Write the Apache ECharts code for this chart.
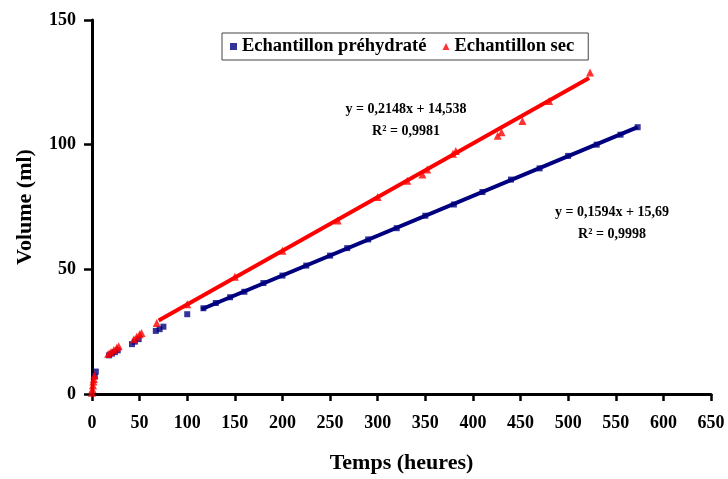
<!DOCTYPE html>
<html>
<head>
<meta charset="utf-8">
<script src="https://cdn.jsdelivr.net/npm/echarts@6/dist/echarts.min.js"></script>
<style>
  html, body { margin: 0; padding: 0; background: #fff; }
  #chart { width: 728px; height: 479px; }
</style>
</head>
<body>
<div id="chart"></div>
<script>
// x ticks (heures) and y ticks (ml)
const xTicks = [0, 50, 100, 150, 200, 250, 300, 350, 400, 450, 500, 550, 600, 650]
const yTicks = [0, 50, 100, 150]

// Echantillon sec (triangles rouges) : [temps, volume]
const secPoints = [
  [0, 0.5], [0.5, 2], [1, 3.5], [1.5, 5], [2, 6], [2.5, 7.5],
  [17, 16], [20, 16.8], [23, 17.6], [26, 18.5], [28, 19.2],
  [44, 22], [47, 23], [50, 24], [52, 24.5],
  [68, 28.5],
  [100, 36], [150, 47], [200, 57.5], [258, 69.6], [300, 79],
  [331, 85.5], [347, 88], [352, 90], [379, 96.4], [382, 97.5],
  [426, 103.6], [430, 105], [452, 109.5], [480, 117.5], [523, 128.9]
]

// Echantillon préhydraté (carrés bleus)
const prehydPoints = [
  [3, 7], [4, 9],
  [18, 15.5], [21, 16.2], [24, 16.8], [27, 17.5],
  [42, 20], [45, 21], [49, 22],
  [67, 25.3], [71, 26], [75, 27],
  [100, 32],
  [117, 34.4], [130, 36.5], [145, 38.8], [160, 41], [180, 44.5],
  [200, 47.5], [225, 51.5], [250, 55.5], [268, 58.5], [290, 62],
  [320, 66.5], [350, 71.5], [380, 76], [410, 81], [440, 86],
  [470, 90.5], [500, 95.5], [530, 100], [555, 104], [573, 107]
]

// droites de tendance (extrémités)
const secTrend = [[70, 29.5], [522, 126.7]]
const prehydTrend = [[115, 34], [573, 107]]

const seriesNames = ['Echantillon préhydraté', 'Echantillon sec']
const equations = [
  'y = 0,2148x + 14,538\nR² = 0,9981',
  'y = 0,1594x + 15,69\nR² = 0,9998'
]

const FONT = '"Liberation Serif", "Times New Roman", serif'
const BLUE = '#00007f'
const RED = '#ff0000'

const chart = echarts.init(document.getElementById('chart'))

// texte centré sur (x, y)
const eqText = (txt, x, y) => ({
  type: 'text',
  x: x,
  y: y,
  style: {
    text: txt,
    fill: '#000',
    font: 'bold 14px ' + FONT,
    textAlign: 'center',
    lineHeight: 22
  }
})

const option = {
  backgroundColor: '#fff',
  animation: false,
  grid: { left: 92, right: 17, top: 20, bottom: 79 },
  legend: {
    left: 222,
    top: 33,
    padding: [4, 14, 4, 8],
    itemGap: 16,
    itemWidth: 7,
    itemHeight: 7,
    borderColor: '#444',
    borderWidth: 1,
    textStyle: { fontFamily: FONT, fontWeight: 'bold', fontSize: 18.5, color: '#000' },
    data: [
      { name: seriesNames[0], icon: 'rect' },
      { name: seriesNames[1], icon: 'triangle' }
    ]
  },
  xAxis: {
    type: 'value',
    min: xTicks[0],
    max: xTicks[xTicks.length - 1],
    interval: 50,
    name: 'Temps (heures)',
    nameLocation: 'middle',
    nameGap: 58,
    nameTextStyle: { fontFamily: FONT, fontWeight: 'bold', fontSize: 22, color: '#000' },
    axisLine: { lineStyle: { color: '#000', width: 3 } },
    axisTick: { length: 7, lineStyle: { color: '#000', width: 2.5 } },
    axisLabel: { margin: 20, fontFamily: FONT, fontWeight: 'bold', fontSize: 18, color: '#000' },
    splitLine: { show: false }
  },
  yAxis: {
    type: 'value',
    min: yTicks[0],
    max: yTicks[yTicks.length - 1],
    interval: 50,
    name: 'Volume (ml)',
    nameLocation: 'middle',
    nameGap: 56,
    nameTextStyle: { fontFamily: FONT, fontWeight: 'bold', fontSize: 22, color: '#000' },
    axisLine: { show: true, lineStyle: { color: '#000', width: 3 } },
    axisTick: { show: true, length: 8, lineStyle: { color: '#000', width: 2.5 } },
    axisLabel: { margin: 16, fontFamily: FONT, fontWeight: 'bold', fontSize: 18, color: '#000' },
    splitLine: { show: false }
  },
  series: [
    {
      name: seriesNames[0],
      type: 'scatter',
      symbol: 'rect',
      symbolSize: 6,
      itemStyle: { color: BLUE },
      data: prehydPoints,
      z: 3
    },
    {
      name: seriesNames[1],
      type: 'scatter',
      symbol: 'triangle',
      symbolSize: 8,
      itemStyle: { color: RED },
      data: secPoints,
      z: 4
    },
    {
      name: 'tendance préhydraté',
      type: 'line',
      data: prehydTrend,
      symbol: 'none',
      lineStyle: { color: BLUE, width: 4 },
      z: 2
    },
    {
      name: 'tendance sec',
      type: 'line',
      data: secTrend,
      symbol: 'none',
      lineStyle: { color: RED, width: 4 },
      z: 2
    }
  ],
  graphic: [
    eqText(equations[0], 406, 98),
    eqText(equations[1], 612, 201)
  ]
}

chart.setOption(option)
</script>
</body>
</html>
